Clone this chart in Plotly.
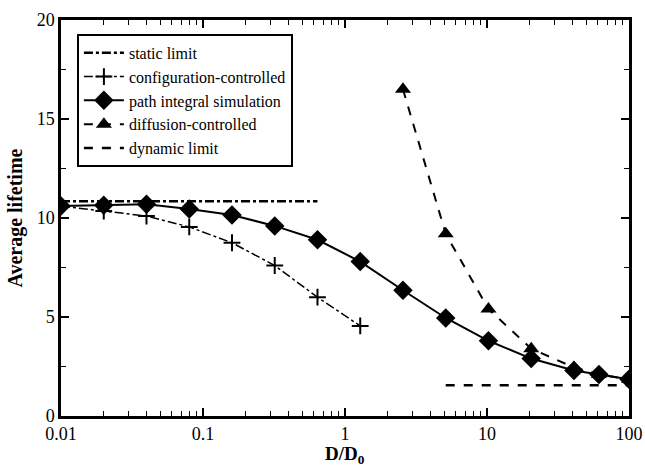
import plotly.graph_objects as go

# Data
x_path = [0.01, 0.02, 0.04, 0.08, 0.16, 0.32, 0.64, 1.28, 2.56, 5.12, 10.24, 20.48, 40.96, 61.44, 100]
y_path = [10.6, 10.65, 10.7, 10.45, 10.15, 9.6, 8.9, 7.8, 6.35, 4.95, 3.8, 2.9, 2.3, 2.1, 1.85]

x_conf = [0.01, 0.02, 0.04, 0.08, 0.16, 0.32, 0.64, 1.28]
y_conf = [10.6, 10.35, 10.1, 9.55, 8.75, 7.6, 6.0, 4.55]

x_diff = [2.56, 5.12, 10.24, 20.48, 40.96, 61.44, 100]
y_diff = [16.5, 9.2, 5.4, 3.4, 2.45, 2.1, 1.85]

x_static = [0.01, 0.64]
y_static = [10.85, 10.85]

x_dyn = [5.12, 100]
y_dyn = [1.55, 1.55]

font = "Liberation Serif, Times New Roman, serif"

fig = go.Figure()
fig.add_trace(go.Scatter(x=x_static, y=y_static, mode="lines", name="static limit",
                         line=dict(color="black", width=2.5, dash="dashdot")))
fig.add_trace(go.Scatter(x=x_conf, y=y_conf, mode="lines+markers", name="configuration-controlled",
                         line=dict(color="black", width=1.5, dash="dashdot"),
                         marker=dict(symbol="cross-thin", size=12, line=dict(color="black", width=2))))
fig.add_trace(go.Scatter(x=x_path, y=y_path, mode="lines+markers", name="path integral simulation",
                         line=dict(color="black", width=2),
                         marker=dict(symbol="diamond", size=15, color="black")))
fig.add_trace(go.Scatter(x=x_diff, y=y_diff, mode="lines+markers", name="diffusion-controlled",
                         line=dict(color="black", width=2, dash="dash"),
                         marker=dict(symbol="triangle-up", size=14, color="black")))
fig.add_trace(go.Scatter(x=x_dyn, y=y_dyn, mode="lines", name="dynamic limit",
                         line=dict(color="black", width=2.5, dash="dash")))

fig.update_layout(
    width=645, height=466,
    margin=dict(l=61, r=16, t=20, b=50, autoexpand=False),
    paper_bgcolor="white", plot_bgcolor="white",
    font=dict(family=font, size=16, color="black"),
    showlegend=True,
    legend=dict(x=0.028, y=0.965, xanchor="left", yanchor="top",
                bordercolor="black", borderwidth=2, bgcolor="white",
                font=dict(family=font, size=16), tracegroupgap=0,
                itemwidth=40),
    annotations=[
        dict(text="<b>D/D<sub>0</sub></b>", xref="paper", yref="paper", x=0.5, y=-0.064,
             xanchor="center", yanchor="top", showarrow=False,
             font=dict(family=font, size=19)),
        dict(text="<b>Average lifetime</b>", xref="paper", yref="paper", x=-0.058, y=0.5,
             xanchor="right", yanchor="middle", showarrow=False, textangle=-90,
             font=dict(family=font, size=20)),
    ],
)
fig.update_xaxes(type="log", range=[-2, 2], automargin=False,
                 showline=True, linecolor="black", linewidth=2.5, mirror="ticks",
                 ticks="inside", ticklen=8, tickwidth=1.5, tickcolor="black",
                 tickvals=[0.01, 0.1, 1, 10, 100], ticktext=["0.01", "0.1", "1", "10", "100"],
                 minor=dict(ticks="inside", ticklen=5, tickcolor="black", tickwidth=1,
                            dtick="D1", showgrid=False),
                 showgrid=False, zeroline=False, ticklabelstandoff=0,
                 tickfont=dict(family=font, size=18))
fig.update_yaxes(range=[0, 20], automargin=False,
                 showline=True, linecolor="black", linewidth=2.5, mirror="ticks",
                 ticks="inside", ticklen=8, tickwidth=1.5, tickcolor="black",
                 tickvals=[0, 5, 10, 15, 20],
                 minor=dict(ticks="inside", ticklen=5, tickcolor="black", tickwidth=1,
                            tickvals=[2.5, 7.5, 12.5, 17.5], showgrid=False),
                 showgrid=False, zeroline=False,
                 tickfont=dict(family=font, size=18))

fig.write_html("out.html")
